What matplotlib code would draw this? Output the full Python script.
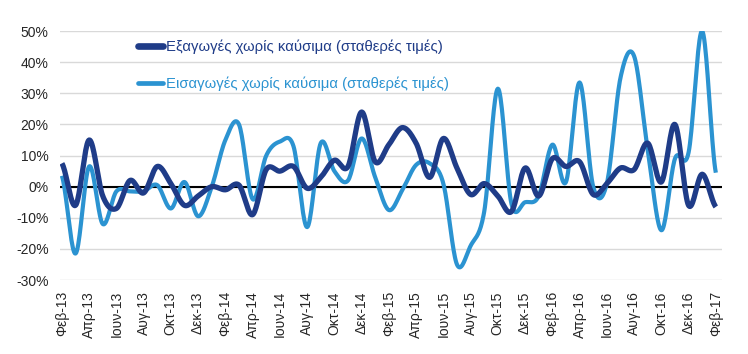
import numpy as np
import matplotlib
matplotlib.use("Agg")
import matplotlib.pyplot as plt
from matplotlib.ticker import FuncFormatter

plt.rcParams['font.family'] = ['Liberation Sans', 'DejaVu Sans']

# monthly values, Feb-13 .. Feb-17 (% y/y)
exports = [7.5, -6, 15, -3, -7, 2, -2, 6.5, 1, -6,
           -3, 0, -1, 0.5, -9, 5.5, 5, 6.5, -0.5, 3,
           8.5, 6.5, 24, 8, 13.5, 19, 14, 3, 15.5, 6,
           -2.5, 1, -3, -8, 6, -3, 9, 6.5, 8, -2.5,
           1, 6, 5.5, 14, 1.5, 20, -6, 4, -6.5]
imports = [3.5, -21.5, 6.5, -12, -1.5, -1.5, -1.5, 0.5, -7, 1.5,
           -9.5, 0, 15, 20, -4, 10, 14.5, 13, -13, 14,
           5, 2, 15.5, 3, -7.5, -1, 7, 7.5, 1, -25,
           -19, -8, 31.5, -5.5, -5, -3, 13.5, 1.5, 33.5, 0,
           1, 35, 42, 12, -14, 9, 11, 50, 4.5]
tick_labels = ['Φεβ-13', 'Απρ-13', 'Ιουν-13', 'Αυγ-13', 'Οκτ-13', 'Δεκ-13',
               'Φεβ-14', 'Απρ-14', 'Ιουν-14', 'Αυγ-14', 'Οκτ-14', 'Δεκ-14',
               'Φεβ-15', 'Απρ-15', 'Ιουν-15', 'Αυγ-15', 'Οκτ-15', 'Δεκ-15',
               'Φεβ-16', 'Απρ-16', 'Ιουν-16', 'Αυγ-16', 'Οκτ-16', 'Δεκ-16',
               'Φεβ-17']
label_exp = 'Εξαγωγές χωρίς καύσιμα (σταθερές τιμές)'
label_imp = 'Εισαγωγές χωρίς καύσιμα (σταθερές τιμές)'

dark = '#1f3c88'
light = '#2b93d1'


def smooth(y, n=20):
    # catmull-rom through the points, like excel's smoothed line
    y = np.asarray(y, dtype=float)
    p = np.concatenate([[y[0]], y, [y[-1]]])
    xs, ys = [], []
    t = np.linspace(0, 1, n, endpoint=False)
    for i in range(len(y) - 1):
        p0, p1, p2, p3 = p[i], p[i + 1], p[i + 2], p[i + 3]
        seg = 0.5 * (2 * p1 + (-p0 + p2) * t
                     + (2 * p0 - 5 * p1 + 4 * p2 - p3) * t ** 2
                     + (-p0 + 3 * p1 - 3 * p2 + p3) * t ** 3)
        xs.append(i + t)
        ys.append(seg)
    xs.append([len(y) - 1])
    ys.append([y[-1]])
    return np.concatenate(xs), np.concatenate(ys)


fig = plt.figure(figsize=(7.48, 3.54), dpi=100)
ax = fig.add_axes([0.080, 0.209, 0.885, 0.703])

x1, y1 = smooth(exports)
x2, y2 = smooth(imports)
ax.axhline(0, color='black', lw=1.5, zorder=2)
ax.plot(x2, y2, color=light, lw=3.0, label=label_imp, zorder=3, solid_capstyle='butt')
ax.plot(x1, y1, color=dark, lw=3.8, label=label_exp, zorder=4, solid_capstyle='butt')

ax.set_ylim(-30, 50)
ax.set_yticks(np.arange(-30, 51, 10))
ax.yaxis.set_major_formatter(FuncFormatter(lambda v, _: f'{v:.0f}%'))
ax.set_xlim(-0.15, len(exports) - 1 + 0.44)
ax.set_xticks(np.arange(0, len(exports), 2))
ax.set_xticklabels(tick_labels, rotation=90)
ax.grid(axis='y', color='#d9d9d9', lw=1)
ax.set_axisbelow(True)
for s in ax.spines.values():
    s.set_visible(False)
ax.tick_params(length=0, labelsize=10, colors='#262626')
ax.tick_params(axis='y', pad=8)
ax.tick_params(axis='x', pad=8)

h, l = ax.get_legend_handles_labels()
leg = ax.legend(h[::-1], l[::-1], loc='upper left', bbox_to_anchor=(0.098, 1.02),
                frameon=False, fontsize=10.7, labelcolor='linecolor',
                handlelength=1.7, handletextpad=0.2, labelspacing=1.5)
for lh, w in zip(leg.legend_handles, [4.8, 3.4]):
    lh.set_linewidth(w)
    lh.set_solid_capstyle('round')

fig.savefig('out.png', dpi=100)
